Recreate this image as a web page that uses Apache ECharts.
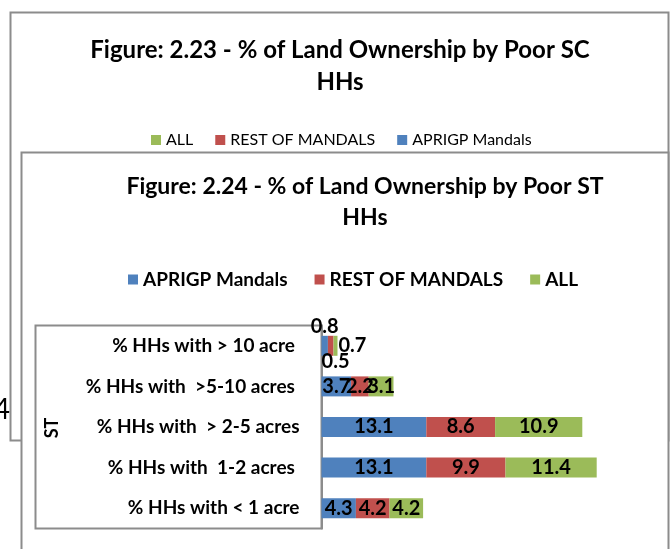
<!DOCTYPE html>
<html>
<head>
<meta charset="utf-8">
<script src="https://cdn.jsdelivr.net/npm/echarts@6/dist/echarts.min.js"></script>
<style>
  html, body { margin: 0; padding: 0; background: #fff; }
  #main { width: 670px; height: 549px; }
</style>
</head>
<body>
<div id="main"></div>
<script>
//----------- Data
const categories = [
    "% HHs with < 1 acre",
    "% HHs with  1-2 acres ",
    "% HHs with  > 2-5 acres",
    "% HHs with  >5-10 acres ",
    "% HHs with > 10 acre "
];
const seriesNames = ["APRIGP Mandals", "REST OF MANDALS", "ALL"];
const aprigp = [4.3, 13.1, 13.1, 3.7, 0.8];
const rest = [4.2, 9.9, 8.6, 2.2, 0.7];
const all = [4.2, 11.4, 10.9, 3.1, 0.5];
//----------- Data

const colors = ["#4F81BD", "#C0504D", "#9BBB59"];
const fontName = "Lato";
const frameColor = "#8c8c8c";

const myChart = echarts.init(document.getElementById("main"));

//the tiny top bar has its labels pushed around the bar
const smallLabels = [
    {position: "top", distance: -1},
    {position: "right", distance: 5},
    {position: "bottom", distance: -4}
];

const makeSeries = (name, values, i) => ({
    name: name,
    type: "bar",
    stack: "ST",
    barWidth: 20,
    itemStyle: {color: colors[i]},
    label: {
        show: true,
        position: "inside",
        color: "#000",
        fontFamily: fontName,
        fontWeight: "bold",
        fontSize: 20
    },
    data: values.map((v, idx) => idx === 4 ? {value: v, label: smallLabels[i]} : v),
    z: 3
});

const option = {
    animation: false,
    graphic: [
        // frame of figure 2.23 (behind)
        {type: "rect", z: 0, shape: {x: 10.5, y: 12.5, width: 658, height: 428},
         style: {fill: "#fff", stroke: frameColor, lineWidth: 2}},
        {type: "text", z: 1, style: {text: "Figure: 2.23 - % of Land Ownership by Poor SC\nHHs",
            x: 340, y: 66, textAlign: "center", textVerticalAlign: "middle", lineHeight: 32,
            font: "bold 24px " + fontName, fill: "#000"}},
        {type: "text", z: 1, style: {text: "4", x: 10, y: 410, textAlign: "right", textVerticalAlign: "middle",
            font: "28px " + fontName, fill: "#000"}},
        // frame of figure 2.24 (front)
        {type: "rect", z: 2, shape: {x: 21.5, y: 152.5, width: 647, height: 420},
         style: {fill: "#fff", stroke: frameColor, lineWidth: 2}},
        {type: "text", z: 2, style: {text: "Figure: 2.24 - % of Land Ownership by Poor ST\nHHs",
            x: 365, y: 202, textAlign: "center", textVerticalAlign: "middle", lineHeight: 31,
            font: "bold 23px " + fontName, fill: "#000"}},
        // category group box
        {type: "rect", z: 2, shape: {x: 35.5, y: 325.5, width: 286, height: 203},
         style: {fill: "#fff", stroke: frameColor, lineWidth: 2}},
        {type: "text", z: 2, rotation: Math.PI / 2, x: 52, y: 428, style: {text: "ST",
            textAlign: "center", textVerticalAlign: "middle",
            font: "bold 18px " + fontName, fill: "#000"}}
    ],
    legend: [
        {
            data: ["ALL", "REST OF MANDALS", "APRIGP Mandals"],
            left: 146, top: 127, z: 1,
            icon: "rect", itemWidth: 10, itemHeight: 10, itemGap: 22,
            textStyle: {fontFamily: fontName, fontSize: 16, color: "#000"}
        },
        {
            data: seriesNames,
            left: 123, top: 265, z: 3,
            icon: "rect", itemWidth: 10, itemHeight: 10, itemGap: 27,
            textStyle: {fontFamily: fontName, fontSize: 19, fontWeight: "bold", color: "#000"}
        }
    ],
    grid: {left: 321.5, top: 325.5, width: 320, height: 203},
    xAxis: {
        type: "value",
        min: 0,
        max: 40,
        show: false
    },
    yAxis: {
        type: "category",
        data: categories,
        z: 3,
        axisLine: {show: true, lineStyle: {color: frameColor, width: 2}},
        axisTick: {show: false},
        axisLabel: {
            margin: 22,
            color: "#000",
            fontFamily: fontName,
            fontWeight: "bold",
            fontSize: 19
        }
    },
    series: [
        makeSeries(seriesNames[0], aprigp, 0),
        makeSeries(seriesNames[1], rest, 1),
        makeSeries(seriesNames[2], all, 2)
    ]
};

myChart.setOption(option);
</script>
</body>
</html>
